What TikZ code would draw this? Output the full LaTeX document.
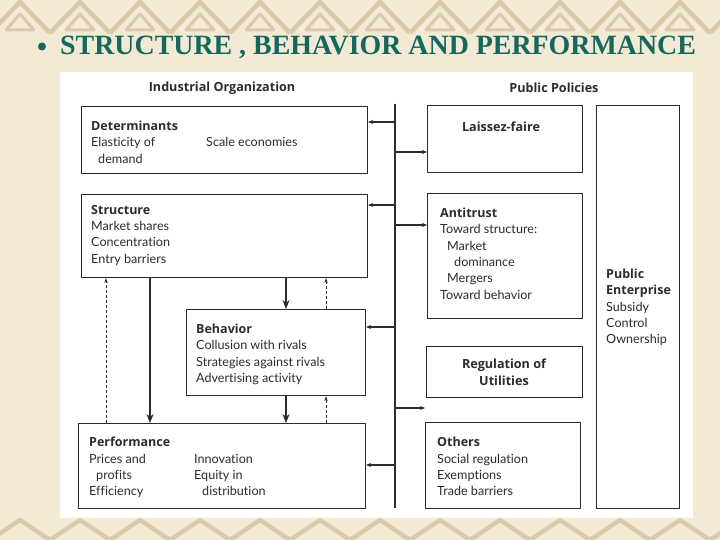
\documentclass[tikz,border=0pt]{standalone}
\usepackage{fontspec}
\setmainfont{Lato}[Ligatures={NoCommon}]
\newfontfamily\boldface{Open Sans}
\newfontfamily\titlefont{Liberation Serif}
\newcommand{\boxhead}[1]{{\boldface\bfseries\fontsize{12.5}{16.3}\selectfont #1}}
\usetikzlibrary{positioning}
\usetikzlibrary{arrows.meta}
\definecolor{cream}{HTML}{F3EAD5}
\definecolor{ornament}{HTML}{D9CBAA}
\definecolor{titleteal}{HTML}{16675E}
\definecolor{ink}{HTML}{2C2C2C}

\begin{document}
\begin{tikzpicture}[x=1pt, y=-1pt]
      \tikzstyle{box} = [draw=ink, line width=1.1pt, anchor=north west, inner sep=0pt]
      \tikzstyle{txt} = [text=ink, font=\fontsize{12.6}{16.3}\selectfont, align=left, inner sep=0pt]
      \tikzstyle{head} = [text=ink, font=\fontsize{12.6}{16.3}\selectfont\boldface\bfseries, align=center, inner sep=0pt]
      \tikzstyle{link} = [draw=ink, line width=1.1pt, -{Stealth[length=5pt, width=4pt]}]
      \tikzstyle{flow} = [draw=ink, line width=2pt, -{Stealth[length=9pt, width=7pt]}]
      \tikzstyle{feedback} = [draw=ink, line width=0.7pt, dash pattern=on 3pt off 2pt, -{Stealth[length=5pt, width=3.5pt]}]

      % slide background
      \useasboundingbox (0,0) rectangle (720,540);
      \fill[cream] (0,0) rectangle (720,540);
      \foreach \i in {0,...,12} {
        \draw[ornament, line width=4.5pt, line join=round] (\i*60-10,33) -- (\i*60+20,2) -- (\i*60+50,33);
        \draw[ornament, line width=3pt, line join=round] (\i*60+6,30) -- (\i*60+20,14) -- (\i*60+34,30) -- cycle;
        \draw[ornament, line width=4.5pt, line join=round] (\i*60-10,540) -- (\i*60+20,520) -- (\i*60+50,540);
      }
      \fill[white] (60,72) rectangle (693,518);

      % title
      \node (bullet) [circle, fill=titleteal, inner sep=0pt, minimum size=8pt] at (42,46.5) {};
      \node (title) [anchor=base west, inner sep=0pt, text=titleteal] at (60,54.5)
        {\titlefont\bfseries\fontsize{27.9}{30}\selectfont STRUCTURE , BEHAVIOR AND PERFORMANCE};

      % column headings
      \node (industrialOrg) [head] at (222,88) {Industrial Organization};
      \node (publicPolicies) [head] at (554,88) {Public Policies};

      % industrial organization boxes
      \node (determinants) [box, minimum width=286pt, minimum height=67pt] at (81,106) {};
      \node (structure) [box, minimum width=286pt, minimum height=83pt] at (81,194) {};
      \node (behavior) [box, minimum width=179pt, minimum height=86pt] at (186,309) {};
      \node (performance) [box, minimum width=287pt, minimum height=85pt] at (78,423) {};

      \node (determinantsText) [txt, anchor=north west, below right=15pt and 10pt of determinants.north west]
        {\boxhead{Determinants}\\\makebox[115pt][l]{Elasticity of}Scale economies\\\hspace*{7pt}demand};
      \node (structureText) [txt, anchor=north west, below right=11pt and 10pt of structure.north west]
        {\boxhead{Structure}\\Market shares\\Concentration\\Entry barriers};
      \node (behaviorText) [txt, anchor=north west, below right=15pt and 10pt of behavior.north west]
        {\boxhead{Behavior}\\Collusion with rivals\\Strategies against rivals\\Advertising activity};
      \node (performanceText) [txt, anchor=north west, below right=14pt and 11pt of performance.north west]
        {\boxhead{Performance}\\\makebox[105pt][l]{Prices and}Innovation\\\makebox[105pt][l]{\hspace*{7pt}profits}Equity in\\\makebox[105pt][l]{Efficiency}\hspace*{8pt}distribution};

      % public policy boxes
      \node (laissezFaire) [box, minimum width=155pt, minimum height=67pt] at (427,105) {};
      \node (antitrust) [box, minimum width=155pt, minimum height=125pt] at (427,193) {};
      \node (regulation) [box, minimum width=156pt, minimum height=51pt] at (426,346) {};
      \node (others) [box, minimum width=155pt, minimum height=86pt] at (425,422) {};
      \node (enterprise) [box, minimum width=83pt, minimum height=403pt] at (596,105) {};

      \node (laissezText) [head, anchor=north] at (501,121.5) {Laissez-faire};
      \node (antitrustText) [txt, anchor=north west, below right=15pt and 13pt of antitrust.north west]
        {\boxhead{Antitrust}\\Toward structure:\\\hspace*{7pt}Market\\\hspace*{14pt}dominance\\\hspace*{7pt}Mergers\\Toward behavior};
      \node (regulationText) [head, anchor=north] at (504,359) {Regulation of\\Utilities};
      \node (othersText) [txt, anchor=north west, below right=15pt and 12pt of others.north west]
        {\boxhead{Others}\\Social regulation\\Exemptions\\Trade barriers};
      \node (enterpriseText) [txt, anchor=north west, below right=164pt and 10pt of enterprise.north west]
        {\boxhead{Public}\\\boxhead{Enterprise}\\Subsidy\\Control\\Ownership};

      % policy bus
      \coordinate (busTop) at (395,104);
      \coordinate (busBottom) at (395,508);
      \draw[draw=ink, line width=1.4pt] (busTop) -- (busBottom);

      \coordinate (tapDeterminants) at (395,122);
      \coordinate (tapStructure) at (395,205);
      \coordinate (tapBehavior) at (395,327);
      \coordinate (tapPerformance) at (395,465);
      \coordinate (tapLaissez) at (395,152);
      \coordinate (tapAntitrust) at (395,225);
      \coordinate (tapOthers) at (395,408);

      \draw[link] (tapDeterminants) -- (tapDeterminants -| determinants.east);
      \draw[link] (tapStructure) -- (tapStructure -| structure.east);
      \draw[link] (tapBehavior) -- (tapBehavior -| behavior.east);
      \draw[link] (tapPerformance) -- (tapPerformance -| performance.east);
      \draw[link] (tapLaissez) -- (tapLaissez -| laissezFaire.west);
      \draw[link] (tapAntitrust) -- (tapAntitrust -| antitrust.west);
      \draw[link] (tapOthers) -- (tapOthers -| others.west);

      % structure - behavior - performance
      \coordinate (colDown) at (286,0);
      \coordinate (colUp) at (326,0);
      \coordinate (colLeftDown) at (150,0);
      \coordinate (colLeftUp) at (106,0);

      \draw[flow] (structure.south -| colDown) -- (behavior.north -| colDown);
      \draw[flow] (behavior.south -| colDown) -- (performance.north -| colDown);
      \draw[flow] (structure.south -| colLeftDown) -- (performance.north -| colLeftDown);
      \draw[feedback] (behavior.north -| colUp) -- (structure.south -| colUp);
      \draw[feedback] (performance.north -| colUp) -- (behavior.south -| colUp);
      \draw[feedback] (performance.north -| colLeftUp) -- (structure.south -| colLeftUp);
    \end{tikzpicture}
\end{document}
